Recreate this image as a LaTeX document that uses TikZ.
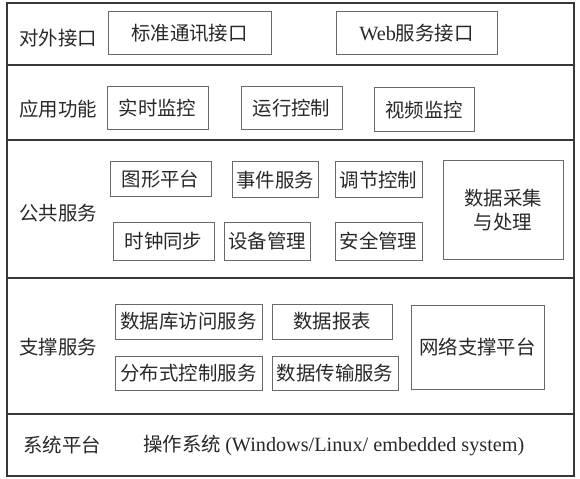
\documentclass[tikz,border=0pt]{standalone}
\usepackage{xcolor}
\usepackage{fontspec}
\setmainfont{Liberation Serif}
\newfontfamily\cjk{Noto Sans CJK SC}
\usepackage{tikz}
\usetikzlibrary{positioning}
\definecolor{framecolor}{RGB}{55,55,55}
\definecolor{boxcolor}{RGB}{105,105,105}
\definecolor{textcolor}{RGB}{40,40,40}
\newcommand{\layersize}{\fontsize{19.5}{24}\selectfont}
\newcommand{\latinsize}{\fontsize{20.3}{24}\selectfont}
\tikzset{
  frame/.style={draw=framecolor, line width=1.3bp},
  modbox/.style={draw=boxcolor, line width=1bp, rectangle, inner sep=0pt,
                 minimum height=#1, font=\cjk\layersize, text=textcolor,
                 align=center},
  modbox/.default=43bp,
  layerlabel/.style={font=\cjk\layersize, text=textcolor, inner sep=0pt},
}

\begin{document}
\begin{tikzpicture}[x=1bp, y=-1bp]
  \useasboundingbox (0,0) rectangle (580,479);

  % Frame and layer separators
  \draw[frame] (7,3) rectangle (574,476);
  \draw[frame] (7,65) -- (574,65);
  \draw[frame] (7,140) -- (574,140);
  \draw[frame] (7,278) -- (574,278);
  \draw[frame] (7,414) -- (574,414);

  % Layer labels
  \node[layerlabel] (ifacelbl) at (58,38)  {对外接口};
  \node[layerlabel] (applbl)   at (58,109) {应用功能};
  \node[layerlabel] (publbl)   at (58,213) {公共服务};
  \node[layerlabel] (suplbl)   at (58,347) {支撑服务};
  \node[layerlabel] (syslbl)   at (62,445) {系统平台};

  % External interfaces
  \node[modbox, minimum width=163bp] (stdcomm) at (189.5,33.5) {标准通讯接口};
  \node[modbox, minimum width=161bp] (webiface) at (416.5,33.5)
    {{\rmfamily\latinsize Web}服务接口};

  % Application functions
  \node[modbox, minimum width=101bp] (rtmon)  at (157.5,108.5) {实时监控};
  \node[modbox, minimum width=101bp] (runctl) at (291.5,108.5) {运行控制};
  \node[modbox=44bp, minimum width=100bp] (vidmon) at (424,110) {视频监控};

  % Public services
  \node[modbox=35bp, minimum width=101bp] (graph)  at (160.5,179.5) {图形平台};
  \node[modbox=36bp, minimum width=86bp]  (event)  at (275,180)     {事件服务};
  \node[modbox=36bp, minimum width=87bp]  (adjust) at (378.5,180)   {调节控制};
  \node[modbox=37bp, minimum width=101bp] (clock)  at (163.5,241.5) {时钟同步};
  \node[modbox=37bp, minimum width=86bp]  (device) at (267,241.5)   {设备管理};
  \node[modbox=37bp, minimum width=87bp]  (secure) at (378.5,241.5) {安全管理};
  \node[modbox=98bp, minimum width=120bp] (acquire) at (503,210)
    {数据采集\\与处理};

  % Support services
  \node[modbox=35bp, minimum width=147bp] (dbaccess) at (188.5,321.5) {数据库访问服务};
  \node[modbox=35bp, minimum width=120bp] (report)   at (332,321.5)   {数据报表};
  \node[modbox=34bp, minimum width=147bp] (distctl)  at (188.5,373)   {分布式控制服务};
  \node[modbox=34bp, minimum width=126bp] (transfer) at (335,373)     {数据传输服务};
  \node[modbox=84bp, minimum width=133bp] (netplat)  at (477.5,347)   {网络支撑平台};

  % System platform
  \node[layerlabel, anchor=west] (ossys) at (143,445)
    {操作系统 {\rmfamily\latinsize (Windows/Linux/ embedded system)}};

\end{tikzpicture}
\end{document}
